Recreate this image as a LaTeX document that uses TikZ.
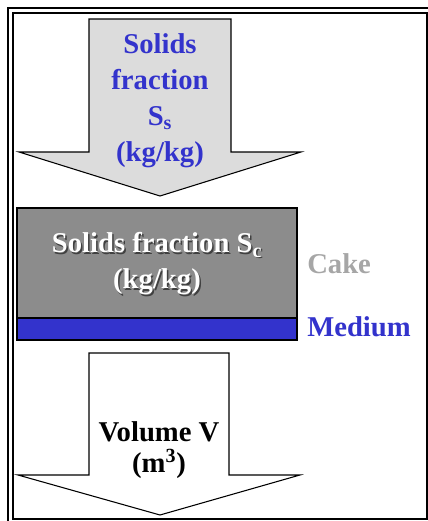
\documentclass[tikz,border=0pt]{standalone}
\usepackage{fontspec}
\setmainfont{Liberation Serif}
\definecolor{flowblue}{RGB}{51,51,204}
\definecolor{feedgray}{RGB}{220,220,220}
\definecolor{cakefill}{RGB}{140,140,140}
\definecolor{caketext}{RGB}{166,166,166}

\begin{document}
\begin{tikzpicture}[x=0.75pt,y=-0.75pt,
  txt/.style={font=\bfseries\fontsize{21.5}{27}\selectfont,align=center,inner sep=0pt},
  outl/.style={draw=black,line width=0.8pt,line join=miter}]
\useasboundingbox (0,0) rectangle (428,521);
\clip (0,0) rectangle (428,521);
% double frame
\draw[line width=1.5pt] (8,8) rectangle (470,570);
\draw[line width=1.5pt] (13,13) rectangle (426.5,518.7);
% feed arrow
\draw[outl,fill=feedgray] (89,19) -- (231,19) -- (231,152) -- (301,152)
  -- (160,196) -- (19,152) -- (89,152) -- cycle;
\node[txt,text=flowblue] (feed) at (160,101) {Solids\\fraction\\S\textsubscript{s}\\(kg/kg)};
% cake and medium
\draw[outl,fill=cakefill] (17,208) rectangle (297,318);
\draw[outl,fill=flowblue] (17,318) rectangle (297,340);
\node[txt,text=black!75] (cakeshadow) at (158.5,265.5) {Solids fraction S\textsubscript{c}\\(kg/kg)};
\node[txt,text=white] (cake) at (157,264) {Solids fraction S\textsubscript{c}\\(kg/kg)};
\node[txt,text=caketext,anchor=base west] (cakelbl) at (307,273) {Cake};
\node[txt,text=flowblue,anchor=base west] (medlbl) at (307,336) {Medium};
% filtrate arrow
\draw[outl,fill=white] (89,353) -- (229,353) -- (229,475) -- (300,475)
  -- (160,515) -- (18,475) -- (89,475) -- cycle;
\node[txt,font=\bfseries\fontsize{21.5}{23.5}\selectfont] (filtrate) at (159,450) {Volume V\\(m\textsuperscript{3})};
\end{tikzpicture}
\end{document}
